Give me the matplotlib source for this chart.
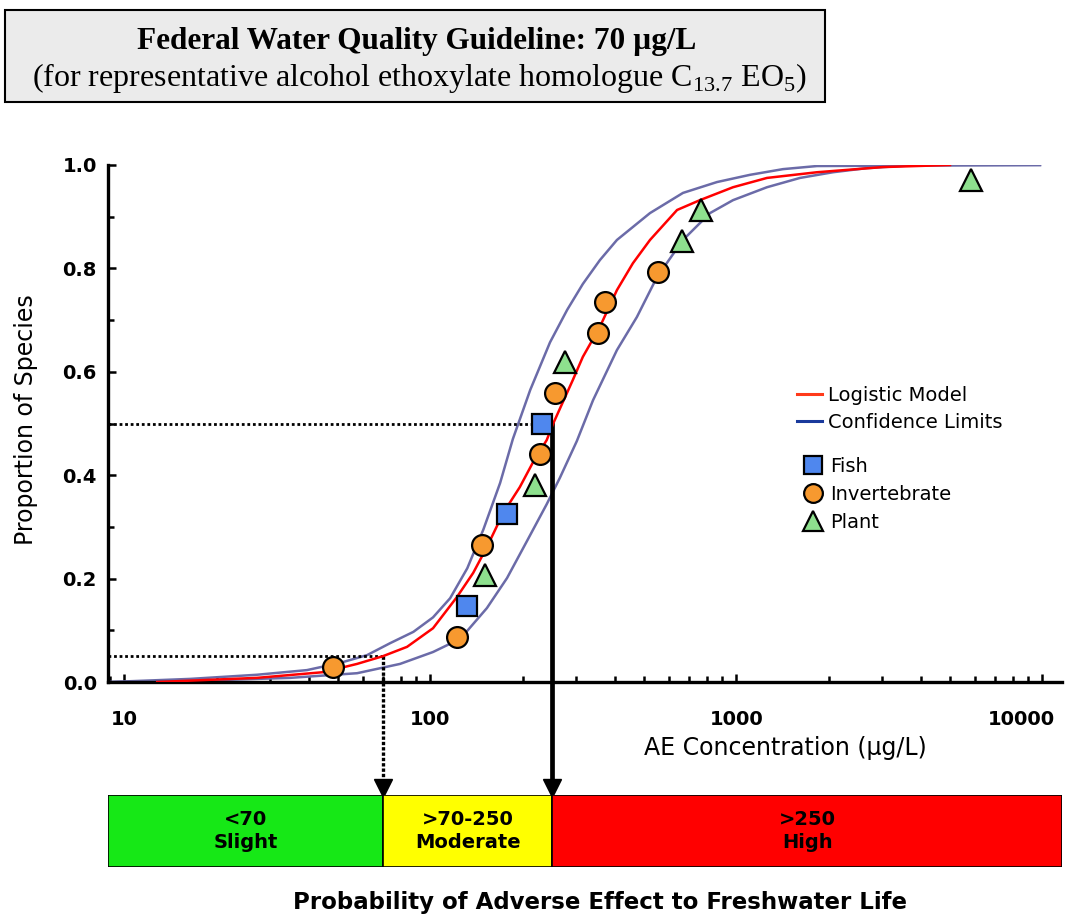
import numpy as np
import matplotlib.pyplot as plt
import matplotlib.transforms as mtransforms
from matplotlib.lines import Line2D
from matplotlib.patches import Rectangle
from matplotlib.ticker import NullFormatter

plt.rcParams['mathtext.fontset'] = 'custom'
plt.rcParams['mathtext.rm'] = 'Liberation Serif'

# --- Datos: especies (posicion de Hazen, n = 17) ---
fish_x = [132, 178, 232]
fish_y = [0.147, 0.324, 0.500]
invert_x = [48, 122, 148, 228, 255, 353, 372, 554]
invert_y = [0.029, 0.088, 0.265, 0.441, 0.559, 0.676, 0.735, 0.794]
plant_x = [151, 220, 275, 664, 766, 5843]
plant_y = [0.206, 0.382, 0.618, 0.853, 0.912, 0.971]

# --- Curvas ---
model_x = [12.8, 27.1, 44.6, 57.6, 70, 83.9, 102, 122, 138, 153, 173, 196, 216, 240,
           252, 292, 315, 358, 407, 459, 522, 640, 760, 975, 1259, 1834, 3013, 4990]
model_y = [0.0, 0.008, 0.019, 0.035, 0.05, 0.068, 0.104, 0.164, 0.211, 0.261, 0.327,
           0.377, 0.424, 0.468, 0.5, 0.584, 0.629, 0.687, 0.758, 0.81, 0.855, 0.913,
           0.932, 0.957, 0.975, 0.986, 0.996, 1.0]

upper_x = [9, 16.4, 27.1, 39.5, 50.7, 62.1, 73.8, 88, 102, 116, 132, 149, 169, 186,
           212, 246, 280, 315, 358, 407, 522, 669, 864, 1108, 1420, 1834, 9820]
upper_y = [0.0, 0.006, 0.014, 0.023, 0.037, 0.052, 0.075, 0.097, 0.125, 0.162, 0.22,
           0.295, 0.385, 0.47, 0.565, 0.657, 0.72, 0.77, 0.816, 0.855, 0.907, 0.946,
           0.967, 0.981, 0.992, 0.998, 1.0]

lower_x = [9, 16.4, 34.8, 57.6, 79.6, 102, 116, 132, 153, 178, 207, 240, 265, 301,
           340, 407, 473, 550, 669, 820, 975, 1259, 1614, 2069, 2673, 3893, 9820]
lower_y = [0.0, 0.002, 0.008, 0.017, 0.035, 0.058, 0.074, 0.099, 0.143, 0.201, 0.273,
           0.344, 0.395, 0.466, 0.545, 0.642, 0.706, 0.783, 0.855, 0.907, 0.932, 0.957,
           0.975, 0.986, 0.994, 1.0, 1.0]

guideline = 70   # HC5
hc50 = 250

zone_edges = [70, 250]
zone_colors = ['#16e816', '#ffff00', '#ff0000']
zone_labels = ['<70\nSlight', '>70-250\nModerate', '>250\nHigh']

xmin, xmax = 8.84, 11590

# --- Figura ---
fig = plt.figure(figsize=(10.66, 9.17), dpi=100)
W, H = 1066, 917

# caja del titulo
fig.add_artist(Rectangle((5 / W, 1 - 102 / H), 820 / W, 92 / H, transform=fig.transFigure,
                         facecolor='#ebebeb', edgecolor='black', lw=1.5))
fig.text(417 / W, 1 - 42 / H, 'Federal Water Quality Guideline: 70 \u00b5g/L',
         family='Liberation Serif', fontweight='bold', fontsize=22.5, ha='center', va='center')
fig.text(419 / W, 1 - 78 / H,
         '(for representative alcohol ethoxylate homologue C$_{\\mathrm{13.7}}$ EO$_{\\mathrm{5}}$)',
         family='Liberation Serif', fontsize=23, ha='center', va='center')

ax = fig.add_axes([108 / W, 1 - 682 / H, (1062 - 108) / W, (682 - 165) / H])
ax.set_xscale('log')
ax.set_xlim(xmin, xmax)
ax.set_ylim(0, 1)

ax.plot(upper_x, upper_y, color='#6b6ba8', lw=1.8, zorder=2)
ax.plot(lower_x, lower_y, color='#6b6ba8', lw=1.8, zorder=2)
ax.plot(model_x, model_y, color='#ff0000', lw=1.8, zorder=3)

# lineas de referencia HC5 y HC50
bar_top = -0.205
ax.plot([xmin, guideline], [0.05, 0.05], color='black', lw=2, ls=(0, (1, 1)), zorder=2)
ax.plot([xmin, hc50], [0.5, 0.5], color='black', lw=2, ls=(0, (1, 1)), zorder=2)
ax.plot([guideline, guideline], [0.05, bar_top], color='black', lw=2.4, ls=(0, (1, 0.6)),
        clip_on=False, zorder=2)
ax.plot([hc50, hc50], [0.5, bar_top], color='black', lw=3.4, clip_on=False, zorder=2)
ax.plot([guideline, hc50], [bar_top, bar_top], 'v', color='black', ms=13, clip_on=False)

fish, = ax.plot(fish_x, fish_y, 's', ms=15, mfc='#4f87ee', mec='black', mew=1.6,
                label='Fish', zorder=5)
inv, = ax.plot(invert_x, invert_y, 'o', ms=15, mfc='#f7992f', mec='black', mew=1.6,
               label='Invertebrate', zorder=5)
plant, = ax.plot(plant_x, plant_y, '^', ms=16, mfc='#8ee08e', mec='black', mew=1.6,
                 label='Plant', zorder=5)

# ejes
for s in ['top', 'right']:
    ax.spines[s].set_visible(False)
for s in ['left', 'bottom']:
    ax.spines[s].set_linewidth(2.4)
ax.set_yticks([0, 0.2, 0.4, 0.6, 0.8, 1.0], ['0.0', '0.2', '0.4', '0.6', '0.8', '1.0'])
ax.set_yticks([0.1, 0.3, 0.5, 0.7, 0.9], minor=True)
ax.set_xticks([10, 100, 1000, 10000], ['10', '100', '1000', '10000'])
ax.xaxis.set_minor_formatter(NullFormatter())
ax.tick_params(which='both', direction='in', width=1.8, labelsize=14)
ax.tick_params(which='major', length=6)
ax.tick_params(which='minor', length=4)
ax.tick_params(axis='x', pad=20)
ax.tick_params(axis='y', pad=8)
for lab in ax.get_xticklabels() + ax.get_yticklabels():
    lab.set_fontweight('bold')
last = ax.get_xticklabels()[-1]
last.set_transform(last.get_transform() + mtransforms.ScaledTranslation(-15 / 72, 0, fig.dpi_scale_trans))

ax.set_xlabel('AE Concentration (\u00b5g/L)', fontsize=17)
ax.xaxis.set_label_coords((785 - 108) / 954, (682 - 736) / 517)
ax.set_ylabel('Proportion of Species', fontsize=17)
ax.yaxis.set_label_coords((38 - 108) / 954, 0.507)

# leyendas
lines = [Line2D([], [], color='#ff3a1a', lw=2.2), Line2D([], [], color='#1a3a9c', lw=2.2)]
leg1 = ax.legend(lines, ['Logistic Model', 'Confidence Limits'], loc='upper left',
                 bbox_to_anchor=((797 - 108) / 954, (682 - 386) / 517), frameon=False,
                 fontsize=14, handlelength=1.3, handletextpad=0.3, labelspacing=0.42,
                 borderpad=0, borderaxespad=0)
ax.add_artist(leg1)
ax.legend([fish, inv, plant], ['Fish', 'Invertebrate', 'Plant'], loc='upper left',
          bbox_to_anchor=((803 - 108) / 954, (682 - 457) / 517), frameon=False,
          fontsize=14, handlelength=1.0, handletextpad=0.4, labelspacing=0.45,
          borderpad=0, borderaxespad=0, markerscale=0.9)

# --- Barra de riesgo ---
axb = fig.add_axes([108 / W, 1 - 867 / H, (1062 - 108) / W, 72 / H])
axb.set_xscale('log')
axb.set_xlim(xmin, xmax)
axb.set_ylim(0, 1)
lefts = [xmin] + zone_edges
rights = zone_edges + [xmax]
for lo, hi, c, txt in zip(lefts, rights, zone_colors, zone_labels):
    axb.barh(0.5, hi - lo, left=lo, height=1, color=c, edgecolor='black', lw=1.2)
    axb.text(np.sqrt(lo * hi), 0.5, txt, ha='center', va='center', fontsize=14,
             fontweight='bold', linespacing=1.25)
axb.axis('off')

fig.text(600 / W, 1 - 903 / H, 'Probability of Adverse Effect to Freshwater Life',
         ha='center', va='center', fontsize=16.5, fontweight='bold')

fig.savefig('out.png', dpi=100)
